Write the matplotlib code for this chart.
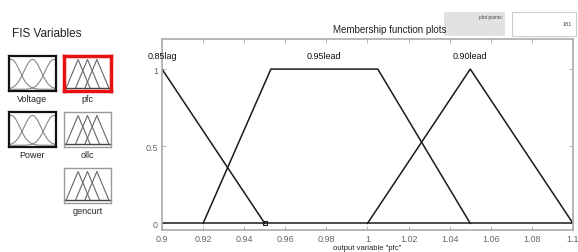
import numpy as np
import matplotlib
matplotlib.use("Agg")
import matplotlib.pyplot as plt
from matplotlib.patches import Rectangle

plt.rcParams['font.family'] = ['Liberation Sans', 'DejaVu Sans']

# membership functions of output variable "pfc"
mf_names = ['0.85lag', '0.95lead', '0.90lead']
mf_x = [[0.85, 0.90, 0.95],
        [0.92, 0.953, 1.005, 1.05],
        [1.00, 1.05, 1.10]]
mf_y = [[0, 1, 0],
        [0, 1, 1, 0],
        [0, 1, 0]]
label_x = [0.90, 0.979, 1.05]
xticks = [0.9, 0.92, 0.94, 0.96, 0.98, 1, 1.02, 1.04, 1.06, 1.08, 1.1]
xtick_labels = ['0.9', '0.92', '0.94', '0.96', '0.98', '1', '1.02', '1.04', '1.06', '1.08', '1.1']
yticks = [0, 0.5, 1]
ytick_labels = ['0', '0.5', '1']

# FIS variable icons: name, kind, left, top (pixels)
var_names = ['Voltage', 'Power', 'pfc', 'ollc', 'gencurt']
var_kind = ['gauss', 'gauss', 'tri', 'tri', 'tri']
var_left = [9, 9, 64, 64, 64]
var_top = [57, 113, 57, 113, 169]

W, H = 578, 253
fig = plt.figure(figsize=(W / 100, H / 100), dpi=100)


def px_axes(left, top, width, height):
    return fig.add_axes([left / W, 1 - (top + height) / H, width / W, height / H])


fig.text(47 / W, 1 - 34 / H, 'FIS Variables', ha='center', va='center', fontsize=8.5, color='#222222')

for name, kind, l, t in zip(var_names, var_kind, var_left, var_top):
    a = px_axes(l, t, 47, 35)
    xs = np.linspace(0, 1, 100)
    if kind == 'gauss':
        for c in [0.05, 0.5, 0.95]:
            a.plot(xs, np.exp(-((xs - c) ** 2) / (2 * 0.18 ** 2)) * 0.85 + 0.05, color='#888888', lw=0.8)
        edge, lw = '#111111', 1.6
    else:
        for c in [0.3, 0.5, 0.7]:
            a.plot([c - 0.25, c, c + 0.25], [0.1, 0.9, 0.1], color='#666666', lw=0.8)
        a.plot([0.03, 0.97], [0.1, 0.1], color='#444444', lw=1.0)
        edge, lw = '#999999', 1.0
        if name == 'pfc':
            edge, lw = '#e81010', 2.5
    a.set_xlim(0, 1)
    a.set_ylim(0, 1)
    a.set_xticks([])
    a.set_yticks([])
    for s in a.spines.values():
        s.set_color(edge)
        s.set_linewidth(lw)
    fig.text((l + 23.5) / W, 1 - (t + 43) / H, name, ha='center', va='center', fontsize=6.5, color='#222222')

# header
fig.text(390 / W, 1 - 30 / H, 'Membership function plots', ha='center', va='center', fontsize=7, color='#222222')
fig.patches.append(Rectangle((444 / W, 1 - 37 / H), 61 / W, 24 / H, transform=fig.transFigure,
                             facecolor='#e2e2e2', edgecolor='none'))
fig.text(503 / W, 1 - 17 / H, 'plot points:', ha='right', va='center', fontsize=3.5, color='#444444')
fig.patches.append(Rectangle((512 / W, 1 - 37 / H), 64 / W, 24 / H, transform=fig.transFigure,
                             facecolor='white', edgecolor='#cccccc', lw=0.8))
fig.text(572 / W, 1 - 25 / H, '181', ha='right', va='center', fontsize=4, color='#444444')

# main plot
ax = px_axes(162, 40, 411, 191)
for xs, ys in zip(mf_x, mf_y):
    ax.plot(xs, ys, color='#1a1a1a', lw=1.1, clip_on=True)
ax.plot([0.9, 1.1], [0, 0], color='#1a1a1a', lw=1.1)
ax.plot([0.95], [0], marker='s', ms=3.5, mfc='none', mec='#1a1a1a', mew=0.8)
for name, lx in zip(mf_names, label_x):
    ax.text(lx, 1.09, name, ha='center', va='center', fontsize=6.5, color='#111111')
ax.set_xlim(0.9, 1.1)
ax.set_ylim(-0.043, 1.195)
ax.set_xticks(xticks)
ax.set_xticklabels(xtick_labels)
ax.set_yticks(yticks)
ax.set_yticklabels(ytick_labels)
ax.tick_params(direction='in', length=3, width=0.6, color='#aaaaaa', labelsize=6.5,
               labelcolor='#666666', top=True, right=True, pad=3)
for s in ax.spines.values():
    s.set_color('#aaaaaa')
    s.set_linewidth(1.2)
# x label sits at the very bottom edge
fig.text(367 / W, 1 / H, 'output variable "pfc"', ha='center', va='bottom', fontsize=5.5, color='#222222')

fig.savefig('out.png', dpi=100)
